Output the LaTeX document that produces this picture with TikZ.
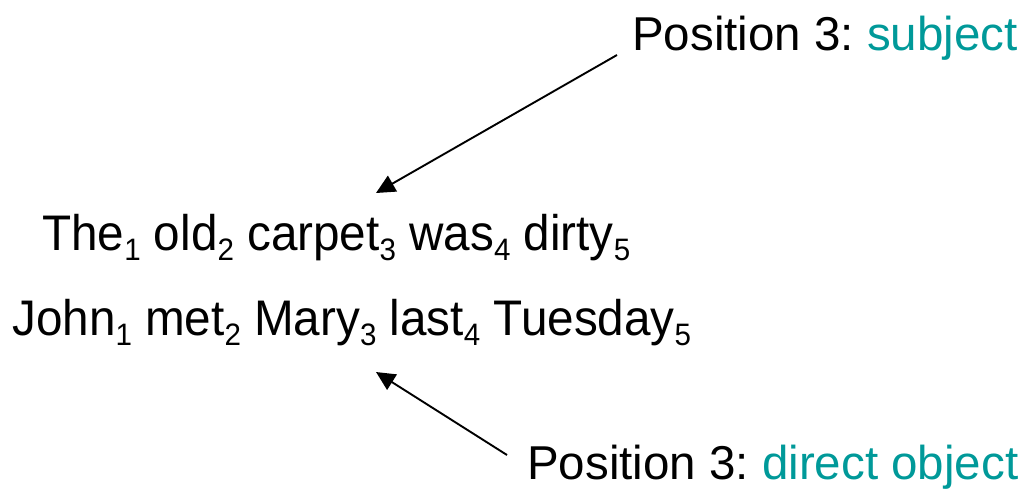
\documentclass[tikz,border=0pt]{standalone}
\usepackage{fontspec}
\setmainfont{Liberation Sans}
\usepackage{tikz}
\usetikzlibrary{
    arrows.meta,
    positioning
}
\usepackage{xcolor}
\definecolor{roleteal}{RGB}{0,153,153}
% word index, set low and small after each word
\newcommand{\pos}[1]{\raisebox{-0.2em}{\fontsize{31}{31}\selectfont #1}}
\frenchspacing

\begin{document}
\begin{tikzpicture}[
        x=1pt, y=-1pt,
        >={Triangle[length=19pt,width=18pt]},
        label/.style={
            anchor=base west,
            inner sep=0pt,
            font=\fontsize{47.5}{57}\selectfont
        },
        sentence/.style={
            anchor=base west,
            inner sep=0pt,
            xscale=0.953,
            font=\fontsize{50}{60}\selectfont
        },
        pointer/.style={->, line width=1.9pt}
    ]
        \useasboundingbox (0,0) rectangle (1027,488);
        \node[label] (subj) at (632,50) {Position 3: \textcolor{roleteal}{subject}};
        \node[sentence] (carpet) at (42,250)
            {The\pos{1} old\pos{2} carpet\pos{3} was\pos{4} dirty\pos{5}};
        \node[sentence] (mary) at (12,335)
            {John\pos{1} met\pos{2} Mary\pos{3} last\pos{4} Tuesday\pos{5}};
        \node[label] (obj) at (527,479) {Position 3: \textcolor{roleteal}{direct object}};
        \coordinate (c3) at (376,193);
        \coordinate (m3) at (376,372);
        \draw[pointer] ([xshift=-15pt,yshift=-5pt]subj.base west) -- (c3);
        \draw[pointer] ([xshift=-20pt,yshift=24pt]obj.base west) -- (m3);
    \end{tikzpicture}
\end{document}
